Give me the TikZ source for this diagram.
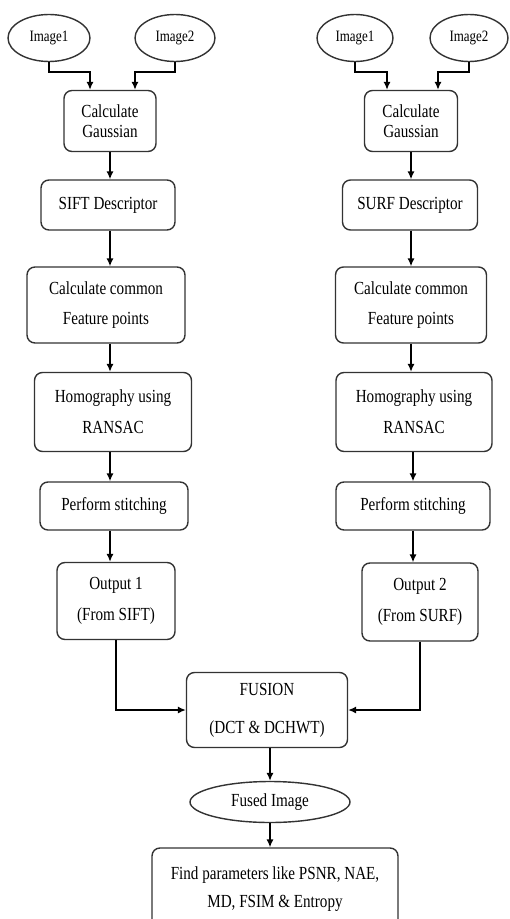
\documentclass[tikz,border=0pt]{standalone}
\usepackage{fontspec}
\setmainfont{Liberation Serif}
\usetikzlibrary{shapes.geometric,arrows.meta}
% narrow, tall lettering as in the scanned chart
\newcommand{\nar}[1]{\scalebox{0.82}[1]{#1}}
\tikzset{
    proc/.style={draw=black!80, line width=0.8pt, rounded corners=4.5pt, align=center,
        inner sep=2pt, font=\fontsize{10.5}{17.5}\selectfont},
    blob/.style={draw=black!80, line width=0.8pt, ellipse, inner sep=0pt, align=center,
        font=\fontsize{9}{10}\selectfont},
    flow/.style={-{Latex[length=4.5pt,width=4pt]}, line width=0.8pt},
}

\begin{document}
\begin{tikzpicture}[x=0.02cm, y=-0.02cm]
    \useasboundingbox (0,0) rectangle (510,919);

    % SIFT column
    \node[blob, minimum width=1.64cm, minimum height=0.94cm] (imgA1) at (49,38) {\nar{Image1}};
    \node[blob, minimum width=1.6cm, minimum height=0.94cm] (imgA2) at (175,38) {\nar{Image2}};
    \node[proc, minimum width=1.84cm, minimum height=1.22cm, font=\fontsize{10.5}{11.5}\selectfont]
        (gaussA) at (110,121) {\nar{Calculate}\\\nar{Gaussian}};
    \node[proc, minimum width=2.68cm, minimum height=1.0cm] (siftA) at (108,205) {\nar{SIFT Descriptor}};
    \node[proc, minimum width=3.16cm, minimum height=1.52cm] (commonA) at (106,305) {\nar{Calculate common}\\\nar{Feature points}};
    \node[proc, minimum width=3.14cm, minimum height=1.58cm] (homoA) at (113,412) {\nar{Homography using}\\\nar{RANSAC}};
    \node[proc, minimum width=2.96cm, minimum height=0.96cm] (stitchA) at (114,506) {\nar{Perform stitching}};
    \node[proc, minimum width=2.36cm, minimum height=1.54cm] (outA) at (116,601) {\nar{Output 1}\\\nar{(From SIFT)}};

    % SURF column
    \node[blob, minimum width=1.52cm, minimum height=0.94cm] (imgB1) at (355,38) {\nar{Image1}};
    \node[blob, minimum width=1.56cm, minimum height=0.94cm] (imgB2) at (469,38) {\nar{Image2}};
    \node[proc, minimum width=1.86cm, minimum height=1.22cm, font=\fontsize{10.5}{11.5}\selectfont]
        (gaussB) at (411,121) {\nar{Calculate}\\\nar{Gaussian}};
    \node[proc, minimum width=2.7cm, minimum height=1.0cm] (surfB) at (410,205) {\nar{SURF Descriptor}};
    \node[proc, minimum width=3.02cm, minimum height=1.52cm] (commonB) at (411,305) {\nar{Calculate common}\\\nar{Feature points}};
    \node[proc, minimum width=3.12cm, minimum height=1.58cm] (homoB) at (414,412) {\nar{Homography using}\\\nar{RANSAC}};
    \node[proc, minimum width=3.08cm, minimum height=0.96cm] (stitchB) at (413,506) {\nar{Perform stitching}};
    \node[proc, minimum width=2.32cm, minimum height=1.56cm] (outB) at (420,602) {\nar{Output 2}\\\nar{(From SURF)}};

    % joined part
    \node[proc, minimum width=3.22cm, minimum height=1.5cm, font=\fontsize{10.5}{21.5}\selectfont]
        (fusion) at (267,710) {\nar{FUSION}\\\nar{(DCT \& DCHWT)}};
    \node[blob, minimum width=3.2cm, minimum height=0.82cm, font=\fontsize{10.5}{11}\selectfont]
        (fused) at (270,802) {\nar{Fused Image}};
    \node[proc, minimum width=4.92cm, minimum height=1.66cm, font=\fontsize{10.5}{16}\selectfont]
        (params) at (275,889.5) {\nar{Find parameters like PSNR, NAE,}\\\nar{MD, FSIM \& Entropy}};

    % connectors
    \draw[flow] (imgA1.south) -- ++(0,10) -| ([xshift=-0.4cm]gaussA.north);
    \draw[flow] (imgA2.south) -- ++(0,10) -| ([xshift=0.5cm]gaussA.north);
    \draw[flow] (imgB1.south) -- ++(0,10) -| ([xshift=-0.48cm]gaussB.north);
    \draw[flow] (imgB2.south) -- ++(0,10) -| ([xshift=0.54cm]gaussB.north);
    \draw[flow] (gaussA.south) -- (gaussA.south |- siftA.north);
    \draw[flow] (gaussB.south) -- (gaussB.south |- surfB.north);
    \draw[flow] (gaussA.south |- siftA.south) -- (gaussA.south |- commonA.north);
    \draw[flow] (surfB.south -| gaussB.south) -- (gaussB.south |- commonB.north);
    \draw[flow] (gaussA.south |- commonA.south) -- (gaussA.south |- homoA.north);
    \draw[flow] (gaussB.south |- commonB.south) -- (gaussB.south |- homoB.north);
    \draw[flow] (gaussA.south |- homoA.south) -- (gaussA.south |- stitchA.north);
    \draw[flow] (stitchB.north |- homoB.south) -- (stitchB.north);
    \draw[flow] (gaussA.south |- stitchA.south) -- (gaussA.south |- outA.north);
    \draw[flow] (stitchB.south) -- (stitchB.south |- outB.north);
    \draw[flow] (outA.south) |- (fusion.west);
    \draw[flow] (outB.south) |- (fusion.east);
    \draw[flow] (fused.north |- fusion.south) -- (fused.north);
    \draw[flow] (fused.south) -- (fused.south |- params.north);
\end{tikzpicture}
\end{document}
